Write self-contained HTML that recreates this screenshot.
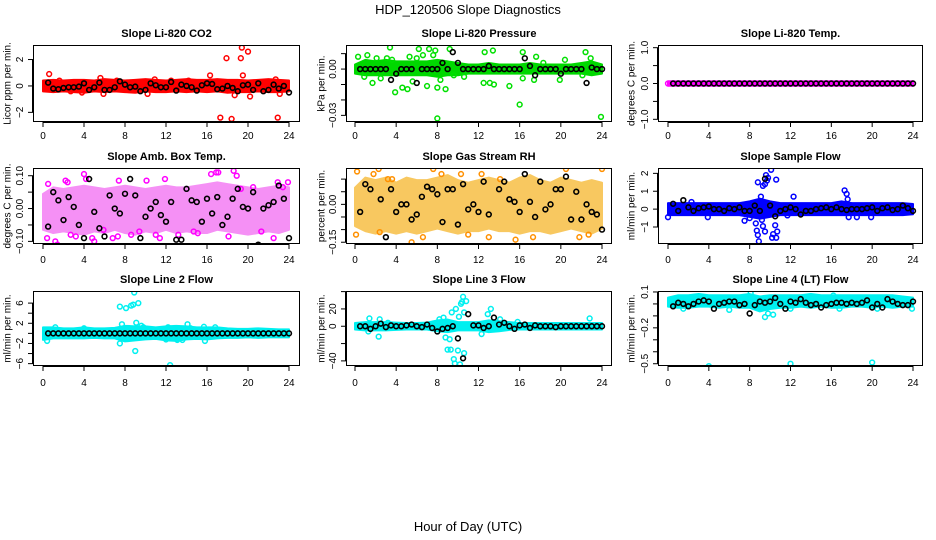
<!DOCTYPE html>
<html><head><meta charset="utf-8"><style>
html,body{margin:0;padding:0;background:#fff;}
svg{display:block;font-family:"Liberation Sans",sans-serif;}
</style></head><body>
<svg id="chart" width="936" height="540" viewBox="0 0 936 540">
<text x="468" y="14" text-anchor="middle" font-size="13">HDP_120506  Slope Diagnostics</text>
<text x="468" y="531" text-anchor="middle" font-size="13">Hour of Day (UTC)</text>
</svg>
<script>
const xTicks = [0,4,8,12,16,20,24];
const bandHours = [0,1,2,3,4,5,6,7,8,9,10,11,12,13,14,15,16,17,18,19,20,21,22,23,24];
const blackHours = [0.5,1,1.5,2,2.5,3,3.5,4,4.5,5,5.5,6,6.5,7,7.5,8,8.5,9,9.5,10,10.5,11,11.5,12,12.5,13,13.5,14,14.5,15,15.5,16,16.5,17,17.5,18,18.5,19,19.5,20,20.5,21,21.5,22,22.5,23,23.5,24];

const co2BandLo = [-0.3,-0.35,-0.3,-0.35,-0.4,-0.3,-0.35,-0.3,-0.35,-0.4,-0.3,-0.35,-0.35,-0.3,-0.35,-0.3,-0.35,-0.3,-0.4,-0.35,-0.35,-0.3,-0.35,-0.35,-0.3];
const co2BandHi = [0.3,0.35,0.3,0.35,0.35,0.3,0.4,0.35,0.3,0.35,0.4,0.35,0.3,0.35,0.4,0.35,0.35,0.4,0.35,0.35,0.3,0.35,0.4,0.35,0.3];
const co2Pts = [[0.6,0.9],[1.6,0.4],[3.8,-0.5],[5.6,0.6],[5.9,-0.6],[10.2,-0.6],[10.9,0.5],[12.5,0.4],[16.3,0.8],[17.3,-2.4],[17.9,2.1],[18.4,-2.5],[19.3,2.1],[19.4,2.9],[19.5,0.8],[20.0,2.6],[20.2,-0.8],[22.9,-2.4],[23.1,-0.6],[18.7,-0.7],[14.2,0.4],[2.7,-0.4],[22.7,0.5],[7.2,0.4]];
const co2Black = [0.25,-0.2,-0.25,-0.15,-0.1,-0.1,-0.05,0.2,-0.3,-0.1,0.25,-0.3,-0.3,-0.1,0.35,0.1,-0.1,-0.05,-0.4,-0.3,0.2,0.05,-0.1,-0.1,0.3,-0.35,0.1,0.0,-0.1,-0.35,0.05,0.2,0.15,-0.25,-0.2,0.0,-0.15,-0.4,0.05,0.1,-0.3,0.2,-0.4,-0.3,0.1,-0.2,0.0,-0.5];

const pressBandLo = [-0.002,-0.003,-0.003,-0.003,-0.003,-0.003,-0.003,-0.003,-0.004,-0.003,-0.003,-0.002,-0.002,-0.002,-0.002,-0.002,-0.002,-0.002,-0.002,-0.002,-0.002,-0.002,-0.002,-0.003,-0.002];
const pressBandHi = [0.002,0.005,0.004,0.005,0.004,0.004,0.004,0.004,0.005,0.004,0.003,0.002,0.002,0.003,0.002,0.002,0.002,0.003,0.002,0.002,0.002,0.002,0.003,0.004,0.002];
const pressPts = [[0.3,0.008],[1.2,0.009],[0.9,-0.005],[1.7,-0.009],[2.1,0.007],[2.5,-0.006],[3.1,0.007],[3.4,0.014],[3.6,0.006],[3.9,-0.015],[4.6,-0.012],[5.1,-0.013],[5.3,0.008],[5.6,-0.008],[6.2,0.013],[6.0,0.007],[6.6,0.009],[7.2,0.013],[7.0,-0.011],[7.8,0.012],[7.6,0.009],[8.0,-0.012],[8.0,-0.032],[8.3,-0.007],[8.8,-0.013],[9.2,0.013],[9.6,-0.004],[10.6,-0.005],[12.5,-0.009],[12.6,0.011],[13.1,-0.009],[13.4,0.012],[13.5,-0.01],[15.0,-0.011],[16.0,-0.023],[16.3,0.011],[16.3,-0.006],[17.4,-0.007],[17.6,0.008],[18.3,0.004],[19.9,-0.007],[20.4,0.006],[22.1,-0.004],[22.4,0.011],[22.9,0.007],[23.9,-0.031]];
const pressBlack = [0,0,0,0,0,0,-0.007,-0.003,0,0,0,-0.009,0,0,0,0,0.004,0,0.011,0.004,0,0,0,0,0,0.002,0,0,0,0,0,0,0.007,0.002,-0.004,0,0,0,0,-0.003,0,0,0,0,-0.009,0.001,0,0];

const tempBandLo = [-0.02,-0.02,-0.02,-0.02,-0.02,-0.02,-0.02,-0.02,-0.02,-0.02,-0.02,-0.02,-0.02,-0.02,-0.02,-0.02,-0.02,-0.02,-0.02,-0.02,-0.02,-0.02,-0.02,-0.02,-0.02];
const tempBandHi = [0.02,0.02,0.02,0.02,0.02,0.02,0.02,0.02,0.02,0.02,0.02,0.02,0.02,0.02,0.02,0.02,0.02,0.02,0.02,0.02,0.02,0.02,0.02,0.02,0.02];
const tempPts = [[0.0,0.0],[24.0,0.0]];
const tempBlack = [0,0,0,0,0,0,0,0,0,0,0,0,0,0,0,0,0,0,0,0,0,0,0,0,0,0,0,0,0,0,0,0,0,0,0,0,0,0,0,0,0,0,0,0,0,0,0,0];

const ambBandLo = [-0.06,-0.07,-0.065,-0.07,-0.075,-0.065,-0.07,-0.06,-0.07,-0.075,-0.065,-0.07,-0.06,-0.07,-0.065,-0.07,-0.07,-0.06,-0.065,-0.07,-0.075,-0.07,-0.065,-0.07,-0.06];
const ambBandHi = [0.04,0.06,0.055,0.06,0.065,0.06,0.055,0.06,0.065,0.06,0.055,0.06,0.065,0.06,0.06,0.065,0.07,0.075,0.07,0.065,0.06,0.055,0.06,0.065,0.06];
const ambPts = [[0.4,-0.09],[0.5,0.075],[1.2,-0.1],[1.4,-0.11],[2.2,0.085],[2.4,0.08],[2.7,-0.08],[3.2,-0.085],[4.0,0.105],[4.2,0.09],[4.8,-0.09],[5.0,-0.1],[5.9,-0.065],[6.8,-0.09],[7.3,-0.085],[7.4,0.085],[8.6,-0.08],[9.4,-0.07],[10.1,0.085],[11.0,-0.08],[11.4,-0.09],[11.9,0.09],[13.2,-0.08],[14.7,-0.07],[15.1,-0.075],[16.4,0.105],[16.9,0.11],[17.1,0.11],[18.1,-0.085],[18.6,0.115],[18.9,0.1],[19.3,0.06],[20.5,0.065],[21.3,-0.07],[22.9,0.08],[23.4,0.065],[23.9,0.08],[22.5,-0.09]];
const ambBlack = [-0.055,0.05,0.025,-0.035,0.035,0.005,-0.05,-0.09,0.09,-0.01,-0.06,-0.085,0.04,0.0,-0.015,0.045,0.09,0.04,-0.09,-0.025,0.0,0.02,-0.02,-0.04,0.02,-0.095,-0.095,0.06,0.025,0.02,-0.04,0.03,-0.015,0.035,-0.05,-0.025,0.03,0.06,0.005,0.0,0.05,-0.11,0.0,0.01,0.02,0.07,0.03,-0.09];

const rhBandLo = [-0.08,-0.1,-0.11,-0.1,-0.11,-0.1,-0.11,-0.1,-0.09,-0.1,-0.11,-0.1,-0.1,-0.09,-0.1,-0.1,-0.11,-0.1,-0.1,-0.11,-0.1,-0.09,-0.1,-0.11,-0.09];
const rhBandHi = [0.06,0.1,0.09,0.1,0.08,0.1,0.09,0.09,0.1,0.11,0.09,0.08,0.09,0.1,0.09,0.08,0.1,0.11,0.09,0.08,0.1,0.09,0.08,0.09,0.08];
const rhPts = [[0.2,0.13],[0.1,-0.12],[1.8,0.12],[2.3,0.14],[3.2,0.1],[3.6,0.1],[5.5,-0.15],[6.6,-0.13],[7.6,0.14],[8.4,0.12],[10.3,0.12],[12.3,0.12],[13.0,-0.13],[14.1,0.1],[15.6,-0.14],[17.3,-0.13],[18.6,-0.18],[19.2,-0.2],[20.5,0.14],[21.8,-0.13],[22.7,-0.12],[24.0,0.14],[11.0,-0.12],[2.4,-0.11]];
const rhBlack = [-0.03,0.08,0.06,0.18,0.02,-0.13,0.06,-0.03,0.0,0.0,-0.06,-0.04,0.03,0.07,0.06,0.04,-0.07,0.06,0.06,-0.08,0.08,-0.02,0.0,-0.03,0.09,-0.04,-0.17,0.06,0.09,0.02,0.01,-0.03,0.12,0.01,-0.05,0.09,-0.02,0.0,0.06,0.06,0.11,-0.06,0.05,-0.06,0.0,-0.03,-0.04,-0.1];

const flowBandLo = [-0.25,-0.25,-0.25,-0.25,-0.25,-0.25,-0.25,-0.25,-0.35,-0.45,-0.35,-0.25,-0.25,-0.25,-0.25,-0.25,-0.25,-0.25,-0.25,-0.25,-0.25,-0.25,-0.25,-0.25,-0.2];
const flowBandHi = [0.25,0.25,0.25,0.25,0.25,0.25,0.25,0.25,0.35,0.5,0.35,0.25,0.25,0.25,0.25,0.25,0.25,0.35,0.25,0.25,0.25,0.25,0.25,0.25,0.2];
const flowPts = [[0.0,-0.45],[2.3,0.4],[3.9,-0.45],[7.5,-0.65],[8.0,-0.5],[8.6,-0.8],[8.7,-1.2],[8.8,-1.45],[8.9,-1.8],[8.8,1.5],[9.1,0.7],[9.2,-0.6],[9.3,-0.95],[9.3,1.3],[9.5,1.4],[9.6,1.9],[9.7,1.6],[9.8,1.75],[9.5,-1.25],[10.1,2.2],[10.2,-1.6],[10.3,-1.4],[10.5,-0.9],[10.7,-1.25],[10.6,-1.6],[10.6,1.65],[11.7,-0.35],[12.3,0.7],[17.3,1.05],[17.5,0.85],[17.6,0.55],[17.7,-0.45],[18.5,-0.45],[19.9,-0.45]];
const flowBlack = [0.3,-0.1,0.5,0.1,-0.1,0.05,0.1,0.15,0.0,0.0,-0.1,0.05,0.0,0.1,-0.1,-0.1,0.2,-0.1,1.7,0.2,-0.4,-0.1,0.0,0.1,0.0,-0.3,-0.1,-0.1,0.0,0.05,0.1,0.0,0.1,0.0,-0.05,0.0,0.0,0.0,0.05,0.1,-0.1,0.05,0.1,-0.05,0.0,0.2,0.05,-0.1];

const line2BandLo = [-1.0,-0.7,-0.7,-0.7,-0.7,-0.6,-0.7,-0.7,-1.3,-1.1,-0.9,-0.8,-1.1,-1.2,-0.9,-0.8,-0.9,-0.7,-0.6,-0.6,-0.5,-0.6,-0.5,-0.5,-0.5];
const line2BandHi = [0.9,0.9,0.7,0.7,0.9,0.7,0.7,0.8,1.2,1.1,1.1,0.9,1.1,1.2,1.1,0.9,0.9,0.9,0.7,0.6,0.6,0.7,0.6,0.5,0.5];
const line2Pts = [[0.4,-1.5],[1.2,1.2],[4.0,1.0],[7.5,5.3],[7.7,1.8],[7.5,-2.0],[8.1,5.0],[8.4,-1.0],[8.6,5.5],[8.8,5.7],[8.9,8.1],[9.0,-3.5],[9.1,2.1],[9.3,6.0],[9.1,-0.7],[9.6,1.5],[9.8,1.2],[10.3,0.8],[12.0,-1.2],[12.2,1.2],[12.4,-6.3],[13.1,-1.3],[13.2,1.0],[13.6,-1.3],[14.1,1.8],[14.4,1.0],[15.8,-1.5],[15.7,1.3],[16.8,1.2]];
const line2Black = [0,0,0,0,0,0,0,0,0,0,0,0,0,0,0,0,0,0,0,0,0,0,0,0,0,0,0,0,0,0,0,0,0,0,0,0,0,0,0,0,0,0,0,0,0,0,0,0];

const line3BandLo = [-2,-3,-3,-3,-2.5,-2,-2,-2,-4,-5,-3,-3,-3,-5,-4,-2.5,-2,-2,-2,-2,-2,-2,-2,-2,-2];
const line3BandHi = [2,3,3,3,2.5,2,2,2.5,5,6,3,3,3,5,4,3,2,2,2,2,2,2,2,2,2];
const line3Pts = [[1.4,9],[1.3,-6],[2.3,-12],[2.4,8],[3.2,4],[7.6,-2],[8.2,8],[8.6,10],[8.8,-13],[9.0,-27],[9.2,-15],[9.3,-27],[9.4,16],[9.6,-38],[9.7,-43],[9.8,20],[10.0,-28],[10.1,11],[10.2,-44],[10.3,26],[10.4,28],[10.5,34],[10.6,-31],[10.8,29],[10.6,16],[12.3,-9],[12.9,14],[13.2,20],[14.1,8],[22.8,9],[15.8,5]];
const line3Black = [0,0,-3,0,3,-1,1,0,0,1,2,0,-1,2,-2,-6,-3,-2,0,-14,-37,14,1,1,-2,0,10,2,4,0,-3,1,2,-2,1,0,0,0,-1,0,0,0,0,0,0,0,0,0];

const line4BandLo = [-0.01,-0.02,-0.02,-0.01,-0.01,-0.02,-0.01,-0.02,-0.02,-0.05,-0.03,-0.02,-0.02,-0.01,-0.02,-0.01,-0.02,-0.02,-0.01,-0.01,-0.02,-0.01,-0.02,-0.01,-0.01];
const line4BandHi = [0.04,0.06,0.06,0.07,0.06,0.06,0.06,0.06,0.07,0.05,0.06,0.06,0.06,0.06,0.07,0.06,0.06,0.06,0.06,0.06,0.06,0.06,0.06,0.05,0.04];
const line4Pts = [[1.5,-0.04],[6.0,-0.05],[8.1,0.09],[9.5,-0.11],[9.8,-0.08],[10.3,-0.09],[12.0,-0.04],[16.2,0.07],[16.8,-0.04],[20.5,-0.04],[23.9,-0.04],[4.0,-0.52],[12.0,-0.5],[20.0,-0.49]];
const line4Black = [-0.02,0.01,0.0,-0.02,0.0,0.02,0.03,0.02,-0.04,0.0,0.01,0.02,0.02,-0.01,0.0,-0.08,-0.01,0.02,0.01,0.02,0.05,0.0,-0.04,0.02,0.01,0.04,0.01,-0.01,0.0,-0.03,-0.01,0.0,0.01,0.01,0.0,0.01,0.0,0.01,0.03,-0.03,0.0,-0.03,0.04,0.02,0.0,-0.01,-0.01,0.02];

const NS = 'http://www.w3.org/2000/svg';
const svg = document.getElementById('chart');
function mk(tag, attrs, parent){ const e=document.createElementNS(NS,tag); for(const k in attrs) e.setAttribute(k,attrs[k]); (parent||svg).appendChild(e); return e; }

const cols = [{l:33,r:300,x0:43,x1:289,lab:8},{l:346,r:612,x0:355,x1:602,lab:322},{l:658,r:923,x0:668,x1:913,lab:632}];
const rows = [{t:45,b:122,title:37,xl:139},{t:168,b:244,title:160,xl:263},{t:291,b:366,title:283,xl:386}];

const panels = [
 {slug:'co2',title:'Slope Li-820 CO2',ylab:'Licor ppm per min.',c:0,r:0,ymin:-2.73,ymax:3.1,ticks:[-2,0,2],labels:['-2','0','2'],labelAt:[-2,0,2],color:'#ff0000',band:'#ff0000',lo:co2BandLo,hi:co2BandHi,pts:co2Pts,blk:co2Black},
 {slug:'pressure',title:'Slope Li-820 Pressure',ylab:'kPa per min.',c:1,r:0,ymin:-0.0343,ymax:0.0156,ticks:[0.01,0,-0.01,-0.02,-0.03],labels:['0.00','-0.03'],labelAt:[0,-0.03],color:'#00e000',band:'#00d800',lo:pressBandLo,hi:pressBandHi,pts:pressPts,blk:pressBlack},
 {slug:'temp',title:'Slope Li-820 Temp.',ylab:'degrees C per min.',c:2,r:0,ymin:-1.075,ymax:1.075,ticks:[1,0.5,0,-0.5,-1],labels:['1.0','0.0','-1.0'],labelAt:[1,0,-1],color:'#ff00ff',band:'#ff00ff',lo:tempBandLo,hi:tempBandHi,pts:tempPts,blk:tempBlack},
 {slug:'amb-temp',title:'Slope Amb. Box Temp.',ylab:'degrees C per min.',c:0,r:1,ymin:-0.108,ymax:0.1235,ticks:[0.1,0.05,0,-0.05,-0.1],labels:['0.10','0.00','-0.10'],labelAt:[0.1,0,-0.1],color:'#ff00ff',band:'#f590f5',lo:ambBandLo,hi:ambBandHi,pts:ambPts,blk:ambBlack},
 {slug:'rh',title:'Slope Gas Stream RH',ylab:'percent per min.',c:1,r:1,ymin:-0.157,ymax:0.144,ticks:[0.1,0.05,0,-0.05,-0.1,-0.15],labels:['0.00','-0.15'],labelAt:[0,-0.15],color:'#ff9000',band:'#f8c860',lo:rhBandLo,hi:rhBandHi,pts:rhPts,blk:rhBlack},
 {slug:'sample-flow',title:'Slope Sample Flow',ylab:'ml/min per min.',c:2,r:1,ymin:-1.95,ymax:2.3,ticks:[2,1,0,-1],labels:['2','1','0','-1'],labelAt:[2,1,0,-1],color:'#0000ff',band:'#0000ff',lo:flowBandLo,hi:flowBandHi,pts:flowPts,blk:flowBlack},
 {slug:'line2',title:'Slope Line 2 Flow',ylab:'ml/min per min.',c:0,r:2,ymin:-6.47,ymax:8.4,ticks:[6,4,2,0,-2,-4,-6],labels:['6','2','-2','-6'],labelAt:[6,2,-2,-6],color:'#00f0f0',band:'#00f0f0',lo:line2BandLo,hi:line2BandHi,pts:line2Pts,blk:line2Black},
 {slug:'line3',title:'Slope Line 3 Flow',ylab:'ml/min per min.',c:1,r:2,ymin:-45.9,ymax:40.7,ticks:[40,20,0,-20,-40],labels:['20','0','-40'],labelAt:[20,0,-40],color:'#00f0f0',band:'#00f0f0',lo:line3BandLo,hi:line3BandHi,pts:line3Pts,blk:line3Black},
 {slug:'line4',title:'Slope Line 4 (LT) Flow',ylab:'ml/min per min.',c:2,r:2,ymin:-0.519,ymax:0.108,ticks:[0.1,0,-0.1,-0.2,-0.3,-0.4,-0.5],labels:['0.1','-0.2','-0.5'],labelAt:[0.1,-0.2,-0.5],color:'#00f0f0',band:'#00f0f0',lo:line4BandLo,hi:line4BandHi,pts:line4Pts,blk:line4Black}
];

panels.forEach(p=>{
  const C=cols[p.c], R=rows[p.r];
  const xs = h => C.x0 + (C.x1-C.x0)*h/24;
  const ys = v => R.b - (R.b-R.t)*(v-p.ymin)/(p.ymax-p.ymin);
  const g = mk('g',{});
  
  
  const cp = mk('clipPath',{id:'clip-'+p.slug},g);
  mk('rect',{x:C.l,y:R.t,width:C.r-C.l,height:R.b-R.t},cp);
  const t = mk('text',{x:(C.l+C.r)/2,y:R.title,'text-anchor':'middle','font-size':'11','font-weight':'bold'},g);
  t.textContent = p.title;
  
  
  const yl = mk('text',{x:C.lab,y:(R.t+R.b)/2,'text-anchor':'middle','font-size':'10',transform:'rotate(-90 '+C.lab+' '+((R.t+R.b)/2)+')','dominant-baseline':'central'},g);
  yl.textContent = p.ylab;
  
  
  const plot = mk('g',{'clip-path':'url(#clip-'+p.slug+')'},g);
  
  
  let d='';
  bandHours.forEach((h,i)=>{ d += (i?'L':'M')+xs(h)+' '+(ys(p.hi[i])-1.5); });
  for(let i=bandHours.length-1;i>=0;i--) d += 'L'+xs(bandHours[i])+' '+(ys(p.lo[i])+1.5);
  d+='Z';
  const band = mk('path',{d:d,fill:p.band,stroke:p.band,'stroke-width':'2','stroke-linejoin':'round'},plot);
  
  
  p.pts.forEach(pt=>{
    const c = mk('circle',{cx:xs(pt[0]),cy:ys(pt[1]),r:2.4,fill:'none',stroke:p.color,'stroke-width':'1.5'},plot);
    
    
  });
  blackHours.forEach((h,i)=>{
    const c = mk('circle',{cx:xs(h),cy:ys(p.blk[i]),r:2.4,fill:'none',stroke:'#000','stroke-width':'1.6'},plot);
    
    
  });
  const fr = mk('rect',{x:C.l+0.5,y:R.t+0.5,width:C.r-C.l-1,height:R.b-R.t-1,fill:'none',stroke:'#000','stroke-width':'1'},g);
  
  
  const xa = mk('g',{},g);
  
  
  mk('line',{x1:xs(0),x2:xs(24),y1:R.b+0.5,y2:R.b+0.5,stroke:'#000'},xa);
  xTicks.forEach(v=>{
    mk('line',{x1:xs(v),x2:xs(v),y1:R.b,y2:R.b+5,stroke:'#000'},xa);
    const tl = mk('text',{x:xs(v),y:R.xl,'text-anchor':'middle','font-size':'10'},xa);
    tl.textContent = String(v);
    
    
  });
  const ya = mk('g',{},g);
  
  
  const yt = p.ticks.map(ys);
  mk('line',{x1:C.l-0.5,x2:C.l-0.5,y1:Math.min(...yt),y2:Math.max(...yt),stroke:'#000'},ya);
  p.ticks.forEach(v=>{ mk('line',{x1:C.l-5,x2:C.l,y1:ys(v),y2:ys(v),stroke:'#000'},ya); });
  p.labels.forEach((s,i)=>{
    const yy = ys(p.labelAt[i]), xx = C.l-10;
    const tl = mk('text',{x:xx,y:yy,'text-anchor':'middle','font-size':'10',transform:'rotate(-90 '+xx+' '+yy+')'},ya);
    tl.textContent = s.replace('-','\u2212');
    
    
  });
});
</script>
</body></html>
